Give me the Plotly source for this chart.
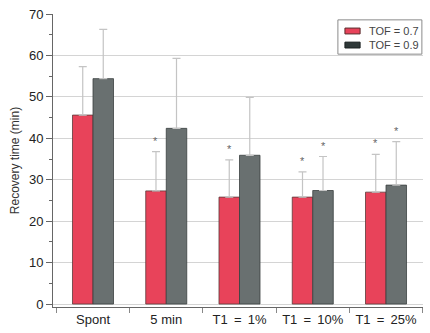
import plotly.graph_objects as go

categories = ["Spont", "5 min", "T1 = 1%", "T1 = 10%", "T1 = 25%"]
tick_labels = ["Spont", "5 min", "T1\u2009 =\u2009 1%", "T1\u2009 =\u2009 10%", "T1\u2009 =\u2009 25%"]
tof07 = [45.6, 27.3, 25.8, 25.8, 27.0]
tof07_sd = [11.7, 9.5, 9.0, 6.1, 9.1]
tof09 = [54.4, 42.4, 35.9, 27.4, 28.7]
tof09_sd = [11.9, 16.9, 14.0, 8.2, 10.5]
sig07 = [False, True, True, True, True]
sig09 = [False, False, False, True, True]
series_names = ["TOF = 0.7", "TOF = 0.9"]

red = "#E8435A"
gray = "#697070"
font = "Liberation Sans, Arial, sans-serif"

fig = go.Figure()
fig.add_trace(go.Bar(
    x=categories, y=tof07, name=series_names[0],
    marker=dict(color=red, line=dict(color="#5a3a3a", width=0.8)),
    error_y=dict(type="data", array=tof07_sd, arrayminus=[0]*5, symmetric=False,
                 color="#c4c4c4", thickness=1.2, width=4),
))
fig.add_trace(go.Bar(
    x=categories, y=tof09, name=series_names[1],
    marker=dict(color=gray, line=dict(color="#3a4040", width=0.8)),
    error_y=dict(type="data", array=tof09_sd, arrayminus=[0]*5, symmetric=False,
                 color="#c4c4c4", thickness=1.2, width=4),
))

for i, c in enumerate(categories):
    for sig, vals, sds, shift in ((sig07, tof07, tof07_sd, -10.3), (sig09, tof09, tof09_sd, 10.3)):
        if sig[i]:
            fig.add_annotation(x=c, y=vals[i] + sds[i], text="*", showarrow=False,
                               xshift=shift, yshift=3, yanchor="bottom",
                               font=dict(family=font, size=11, color="#666"))

# legend box drawn manually (compact, as in the reference)
fig.add_shape(type="rect", xref="paper", yref="paper", x0=0.770, x1=0.997, y0=0.863, y1=0.980,
              line=dict(color="#8a8a8a", width=1), fillcolor="white", layer="above")
legend_rows = [(0.942, red, "#5a2a2a"), (0.894, "#2e3838", "#1a2020")]
for (yc, fc, lc), name in zip(legend_rows, series_names):
    fig.add_shape(type="rect", xref="paper", yref="paper", x0=0.789, x1=0.830,
                  y0=yc - 0.010, y1=yc + 0.010, fillcolor=fc, line=dict(color=lc, width=1),
                  layer="above")
    fig.add_annotation(xref="paper", yref="paper", x=0.849, y=yc, text=name, showarrow=False,
                       xanchor="left", yanchor="middle",
                       font=dict(family=font, size=11, color="#444"))

fig.update_layout(
    width=430, height=333,
    margin=dict(l=53, r=7, t=14, b=26),
    paper_bgcolor="white", plot_bgcolor="white",
    barmode="group", bargap=0.44, bargroupgap=0,
    font=dict(family=font, size=13, color="#333"),
    showlegend=False,
)
fig.update_xaxes(
    range=[-0.546, 4.505], showline=True, linecolor="#666", linewidth=1,
    ticks="outside", tickson="boundaries", ticklen=5, tickcolor="#888",
    tickvals=categories, ticktext=tick_labels,
    showgrid=False, tickfont=dict(size=13, color="#222"),
)
fig.update_yaxes(
    range=[-0.72, 70], showline=True, linecolor="#666", linewidth=1,
    ticks="outside", ticklen=6, tickcolor="#666", dtick=10, tick0=0,
    showgrid=True, gridcolor="#d4d4d4", gridwidth=1, zeroline=False,
    minor=dict(dtick=5, ticks="outside", ticklen=3, tickcolor="#666", showgrid=False),
    tickfont=dict(size=13, color="#222"),
    title=dict(text="Recovery time (min)", font=dict(size=12, color="#333"), standoff=6),
)

fig.write_html("out.html")
